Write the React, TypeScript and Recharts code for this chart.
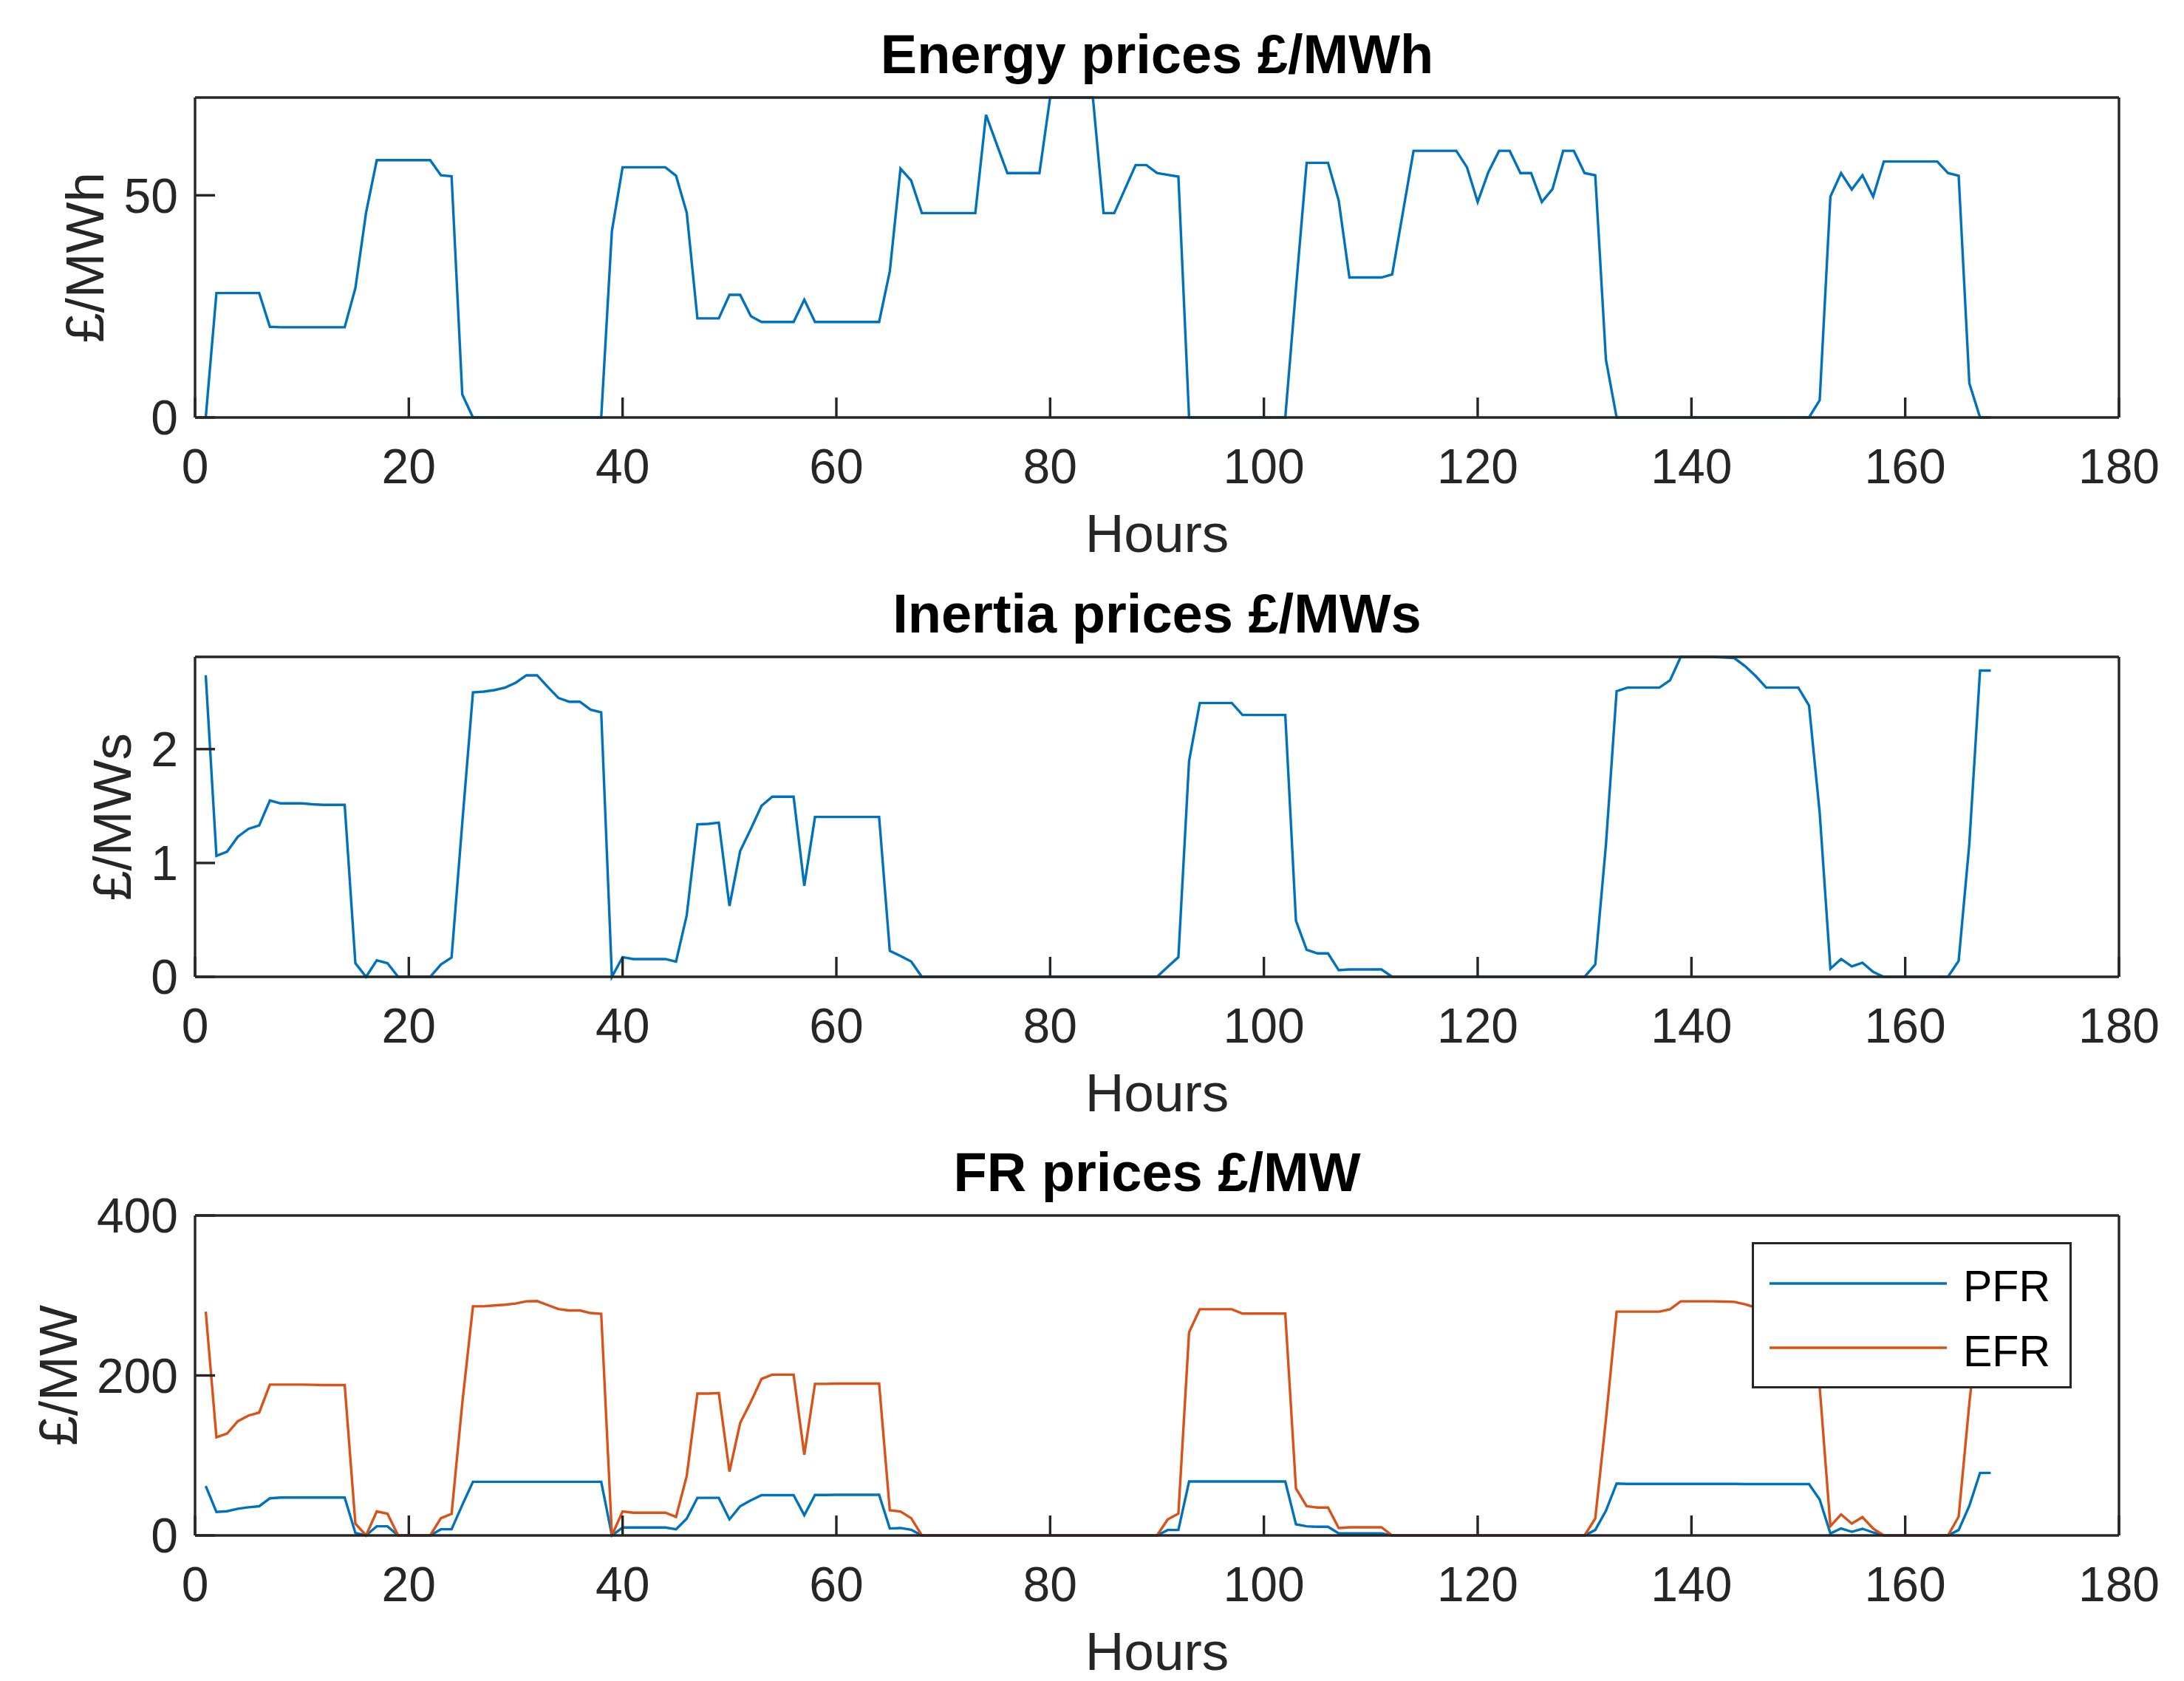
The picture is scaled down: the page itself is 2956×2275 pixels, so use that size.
import { LineChart, Line, XAxis, YAxis, Legend } from "recharts";

const HOURS = Array.from({ length: 168 }, (_, i) => i + 1);
const HOUR_TICKS = [0, 20, 40, 60, 80, 100, 120, 140, 160, 180];

// £/MWh, hours 1..168
const ENERGY = [
	0, 28, 28, 28, 28, 28, 20.4, 20.3, 20.3, 20.3, 20.3, 20.3,
	20.3, 20.3, 29.1, 46.1, 57.9, 57.9, 57.9, 57.9, 57.9, 57.9, 54.5, 54.3,
	5.2, 0, 0, 0, 0, 0, 0, 0, 0, 0, 0, 0,
	0, 0, 42, 56.3, 56.3, 56.3, 56.3, 56.3, 54.4, 46.1, 22.3, 22.3,
	22.3, 27.6, 27.6, 22.8, 21.5, 21.5, 21.5, 21.5, 26.5, 21.5, 21.5, 21.5,
	21.5, 21.5, 21.5, 21.5, 32.9, 56.0, 53.3, 46.0, 46.0, 46.0, 46.0, 46.0,
	46.0, 68.1, 61.5, 55, 55, 55, 55, 72, 72, 72, 72, 72,
	46, 46, 51.4, 56.8, 56.8, 55, 54.6, 54.2, 0, 0, 0, 0,
	0, 0, 0, 0, 0, 0, 29, 57.3, 57.3, 57.3, 48.8, 31.5,
	31.5, 31.5, 31.5, 32.2, 46.1, 60, 60, 60, 60, 60, 56.3, 48.5,
	55.2, 60, 60, 55, 55, 48.5, 51.4, 60, 60, 55, 54.5, 13,
	0, 0, 0, 0, 0, 0, 0, 0, 0, 0, 0, 0,
	0, 0, 0, 0, 0, 0, 0, 3.9, 49.7, 55, 51.3, 54.5,
	49.7, 57.6, 57.6, 57.6, 57.6, 57.6, 57.6, 55, 54.4, 7.7, 0, 0,
];

// £/MWs
const INERTIA = [
	2.648, 1.062, 1.1, 1.23, 1.3, 1.33, 1.549, 1.523, 1.523, 1.523, 1.515, 1.51,
	1.51, 1.51, 0.12, 0, 0.145, 0.12, 0, 0, 0, 0, 0.108, 0.17,
	1.35, 2.498, 2.505, 2.518, 2.54, 2.583, 2.648, 2.648, 2.546, 2.449, 2.416, 2.416,
	2.347, 2.323, 0, 0.173, 0.156, 0.156, 0.156, 0.156, 0.134, 0.54, 1.339, 1.343,
	1.354, 0.622, 1.105, 1.3, 1.502, 1.582, 1.582, 1.582, 0.8, 1.404, 1.404, 1.404,
	1.404, 1.404, 1.404, 1.404, 0.228, 0.184, 0.134, 0, 0, 0, 0, 0,
	0, 0, 0, 0, 0, 0, 0, 0, 0, 0, 0, 0,
	0, 0, 0, 0, 0, 0, 0.087, 0.173, 1.896, 2.405, 2.405, 2.405,
	2.405, 2.3, 2.3, 2.3, 2.3, 2.3, 0.492, 0.238, 0.206, 0.206, 0.058, 0.065,
	0.065, 0.065, 0.065, 0, 0, 0, 0, 0, 0, 0, 0, 0,
	0, 0, 0, 0, 0, 0, 0, 0, 0, 0, 0.108, 1.159,
	2.509, 2.54, 2.54, 2.54, 2.54, 2.605, 2.81, 2.81, 2.81, 2.81, 2.805, 2.8,
	2.73, 2.643, 2.54, 2.54, 2.54, 2.54, 2.383, 1.44, 0.072, 0.156, 0.091, 0.124,
	0.043, 0, 0, 0, 0, 0, 0, 0, 0.14, 1.17, 2.69, 2.69,
];

// £/MW
const PFR = [
	61.8, 29.4, 30.3, 33.4, 35.2, 36.5, 46.4, 47.3, 47.3, 47.3, 47.3, 47.3,
	47.3, 47.3, 3.1, 0, 11.4, 11.4, 0, 0, 0, 0, 7.7, 7.7,
	38, 67.1, 67.1, 67.1, 67.1, 67.1, 67.1, 67.1, 67.1, 67.1, 67.1, 67.1,
	67.1, 67.1, 0, 9.9, 9.9, 9.9, 9.9, 9.9, 7.7, 21, 47, 47,
	47, 20.1, 36.5, 43.9, 50.4, 50.4, 50.4, 50.4, 25.3, 50.6, 50.6, 50.8,
	50.8, 50.8, 50.8, 50.8, 8.7, 9.3, 7.1, 0, 0, 0, 0, 0,
	0, 0, 0, 0, 0, 0, 0, 0, 0, 0, 0, 0,
	0, 0, 0, 0, 0, 0, 6.8, 6.8, 67.4, 67.4, 67.4, 67.4,
	67.4, 67.4, 67.4, 67.4, 67.4, 67.4, 13.9, 11.4, 10.8, 10.8, 2.5, 2.5,
	2.5, 2.5, 2.5, 0, 0, 0, 0, 0, 0, 0, 0, 0,
	0, 0, 0, 0, 0, 0, 0, 0, 0, 0, 6.8, 30.9,
	64.9, 64.5, 64.5, 64.5, 64.5, 64.5, 64.5, 64.5, 64.5, 64.5, 64.5, 64.5,
	64.2, 64.2, 64.2, 64.2, 64.2, 64.2, 64.2, 44.8, 2.5, 8.7, 4.6, 8.3,
	3.7, 0, 0, 0, 0, 0, 0, 0, 6.8, 37, 78.2, 78.2,
];

const EFR = [
	279.8, 122.7, 127.4, 142.8, 149.9, 153.6, 188.6, 188.6, 188.6, 188.6, 188.3, 188,
	188, 188, 14.8, 0, 30, 27.2, 0, 0, 0, 0, 21.6, 26.9,
	165, 286.5, 286.5, 287.5, 288.4, 290, 292.7, 293, 288, 283, 281.3, 281.3,
	278, 277, 0, 30, 28.4, 28.4, 28.4, 28.4, 23.2, 74.2, 177.4, 177.4,
	178, 79.8, 140.6, 167, 195.7, 201, 201, 201, 101, 189.5, 189.5, 189.8,
	189.8, 189.8, 189.8, 189.8, 31.5, 30, 21.6, 0, 0, 0, 0, 0,
	0, 0, 0, 0, 0, 0, 0, 0, 0, 0, 0, 0,
	0, 0, 0, 0, 0, 0, 20.1, 27.2, 254, 282.8, 282.8, 282.8,
	282.8, 277.3, 277.3, 277.3, 277.3, 277.3, 58.7, 36.5, 34.9, 34.9, 9.3, 10.2,
	10.2, 10.2, 10.2, 0, 0, 0, 0, 0, 0, 0, 0, 0,
	0, 0, 0, 0, 0, 0, 0, 0, 0, 0, 21, 145,
	279.8, 279.8, 279.8, 279.8, 279.8, 282.8, 292.7, 292.7, 292.7, 292.7, 292.4, 292,
	289, 285, 282, 281, 280, 278, 265, 185, 11.7, 26.3, 14.8, 22.9,
	8.7, 0, 0, 0, 0, 0, 0, 0, 23.5, 165, 290, 290,
];

const FONT = '"Liberation Sans", Arial, Helvetica, sans-serif';
const AXIS = "#262626";
const BLUE = "#0072BD";
const ORANGE = "#D95319";

const W = 2956;
const H = 2275;
const CHART_H = 603;
const PLOT_TOP_IN_CHART = 60;
const TICK = 27;
const LINE_W = 3.4;

type Series = { key: string; name: string; color: string };

// legend keeps plotting order (PFR first), not alphabetical
const LEGEND_ORDER = ["PFR", "EFR"];

function FrLegend(props: any) {
	const items = [...(props.payload || [])].sort(
		(a: any, b: any) => LEGEND_ORDER.indexOf(a.value) - LEGEND_ORDER.indexOf(b.value),
	);
	return (
		<svg width={433} height={198} style={{ display: "block" }}>
			<rect x={1.5} y={1.5} width={430} height={195} fill="#fff" stroke={AXIS} strokeWidth={3} />
			{items.map((it: any, i: number) => (
				<g key={it.value}>
					<line x1={24} x2={264} y1={56 + i * 87} y2={56 + i * 87} stroke={it.color} strokeWidth={LINE_W} />
					<text x={286} y={80 + i * 88} fontSize={59} fontFamily={FONT} fill="#000">
						{it.value}
					</text>
				</g>
			))}
		</svg>
	);
}

function Panel({
	top,
	rows,
	series,
	yMax,
	yTicks,
	legend,
}: {
	top: number;
	rows: any[];
	series: Series[];
	yMax: number;
	yTicks: number[];
	legend?: boolean;
}) {
	const tickFont = { fontSize: 66, fill: AXIS, fontFamily: FONT };
	return (
		<div style={{ position: "absolute", left: 0, top }}>
			<LineChart
				width={W}
				height={CHART_H}
				data={rows}
				margin={{ top: 50, right: 78, bottom: 10, left: 114 }}
			>
				<XAxis
					dataKey="hour"
					type="number"
					domain={[0, 180]}
					ticks={HOUR_TICKS}
					interval={0}
					height={100}
					tickSize={-TICK}
					tickMargin={69}
					tick={tickFont}
					stroke={AXIS}
					strokeWidth={3.4}
				/>
				<XAxis
					xAxisId="top"
					orientation="top"
					dataKey="hour"
					type="number"
					domain={[0, 180]}
					allowDataOverflow
					ticks={HOUR_TICKS}
					interval={0}
					height={10}
					tickSize={-TICK}
					tick={false}
					stroke={AXIS}
					strokeWidth={3.4}
				/>
				<YAxis
					type="number"
					domain={[0, yMax]}
					ticks={yTicks}
					interval={0}
					width={150}
					tickSize={-TICK}
					tickMargin={50}
					tick={tickFont}
					stroke={AXIS}
					strokeWidth={3.4}
				/>
				<YAxis
					yAxisId="right"
					orientation="right"
					type="number"
					domain={[0, yMax]}
					allowDataOverflow
					ticks={yTicks}
					interval={0}
					width={10}
					tickSize={-TICK}
					tick={false}
					stroke={AXIS}
					strokeWidth={3.4}
				/>
				{series.map((s) => (
					<Line
						key={s.key}
						type="linear"
						dataKey={s.key}
						name={s.name}
						stroke={s.color}
						strokeWidth={LINE_W}
						dot={false}
						isAnimationActive={false}
					/>
				))}
				{legend ? (
					<Legend
						layout="vertical"
						align="center"
						verticalAlign="middle"
						wrapperStyle={{ left: 2371, top: 96, width: 433, height: 198, bottom: "auto", right: "auto" }}
						content={FrLegend}
					/>
				) : null}
			</LineChart>
		</div>
	);
}

const PLOT_TOPS = [132, 889, 1645];
const PLOT_H = 433;
const CENTER_X = (264 + 2868) / 2;

const TITLES = ["Energy prices £/MWh", "Inertia prices £/MWs", "FR prices £/MW"];
const YLABELS = ["£/MWh", "£/MWs", "£/MW"];
const YLABEL_X = [140, 177, 104];

export default function App() {
	const energyRows = HOURS.map((hour, i) => ({ hour, energy: ENERGY[i] }));
	const inertiaRows = HOURS.map((hour, i) => ({ hour, inertia: INERTIA[i] }));
	const frRows = HOURS.map((hour, i) => ({ hour, pfr: PFR[i], efr: EFR[i] }));

	return (
		<div style={{ position: "absolute", left: 0, top: 0, width: W, height: H, background: "#fff", overflow: "hidden" }}>
			<Panel
				top={PLOT_TOPS[0] - PLOT_TOP_IN_CHART}
				rows={energyRows}
				series={[{ key: "energy", name: "Energy", color: BLUE }]}
				yMax={72}
				yTicks={[0, 50]}
			/>
			<Panel
				top={PLOT_TOPS[1] - PLOT_TOP_IN_CHART}
				rows={inertiaRows}
				series={[{ key: "inertia", name: "Inertia", color: BLUE }]}
				yMax={2.81}
				yTicks={[0, 1, 2]}
			/>
			<Panel
				top={PLOT_TOPS[2] - PLOT_TOP_IN_CHART}
				rows={frRows}
				series={[
					{ key: "pfr", name: "PFR", color: BLUE },
					{ key: "efr", name: "EFR", color: ORANGE },
				]}
				yMax={400}
				yTicks={[0, 200, 400]}
				legend
			/>
			<svg
				width={W}
				height={H}
				style={{ position: "absolute", left: 0, top: 0, pointerEvents: "none" }}
			>
				{PLOT_TOPS.map((t, i) => (
					<g key={i} fontFamily={FONT}>
						<text x={CENTER_X} y={t - 33} textAnchor="middle" fontSize={74} fontWeight="bold" fill="#000">
							{TITLES[i]}
						</text>
						<text x={CENTER_X} y={t + PLOT_H + 182} textAnchor="middle" fontSize={73} fill={AXIS}>
							Hours
						</text>
						<text
							x={YLABEL_X[i]}
							y={t + PLOT_H / 2}
							textAnchor="middle"
							fontSize={73}
							fill={AXIS}
							transform={`rotate(-90 ${YLABEL_X[i]} ${t + PLOT_H / 2})`}
						>
							{YLABELS[i]}
						</text>
					</g>
				))}
			</svg>
		</div>
	);
}
